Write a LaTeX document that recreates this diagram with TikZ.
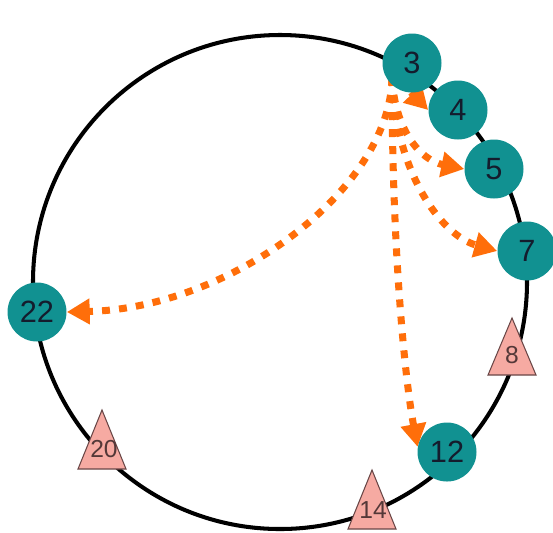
\documentclass[tikz,border=0pt]{standalone}
\usepackage{fontspec}
\setmainfont{Liberation Sans}
\usetikzlibrary{arrows.meta}
\definecolor{peerfill}{RGB}{17,145,145}
\definecolor{fingercol}{RGB}{255,110,10}
\definecolor{trifill}{RGB}{246,170,162}
\definecolor{tribord}{RGB}{105,70,70}
\definecolor{numcol}{RGB}{20,28,45}
\begin{document}
\begin{tikzpicture}[x=0.02cm,y=-0.02cm,
  peer/.style={circle,fill=peerfill,minimum size=1.18cm,inner sep=0pt,text=numcol,font=\fontsize{17.5}{17.5}\selectfont},
  tri/.style={fill=trifill,draw=tribord,line width=0.6pt,line join=miter},
  trilabel/.style={inner sep=0pt,text=tribord!80!black,font=\fontsize{14}{14}\selectfont},
  ring/.style={line width=2.3pt,draw=black},
  finger/.style={draw=fingercol,line width=4pt,dash pattern=on 4.5pt off 5.2pt,
    -{Triangle[length=13pt,width=14pt,fill=fingercol]}}]
\useasboundingbox (0,0) rectangle (553,532);
% ring
\draw[ring] (280,282) circle [radius=247];
% peer positions
\coordinate (c3) at (412,63);
\coordinate (c4) at (458,110);
\coordinate (c5) at (494,169);
\coordinate (c7) at (527,251);
\coordinate (c12) at (447,452);
\coordinate (c22) at (37,312);
% invisible placeholders giving anchors before the arrows are drawn
\path (c4) node[peer,fill=none] (n4) {}
      (c5) node[peer,fill=none] (n5) {}
      (c7) node[peer,fill=none] (n7) {}
      (c12) node[peer,fill=none] (n12) {}
      (c22) node[peer,fill=none] (n22) {};
\coordinate (s) at (392,78);
\coordinate (s4) at (399,80);
% finger arrows
\draw[finger] (s) .. controls (390,190) and (230,308) .. (n22.east);
\draw[finger] (s) .. controls (392,250) and (405,380) .. (n12.170);
\draw[finger] (s) .. controls (395,170) and (440,235) .. (n7.west);
\draw[finger] (s) .. controls (395,130) and (420,160) .. (n5.west);
\draw[finger] (s4) -- (n4.west);
% peers
\node[peer] (p3) at (c3) {3};
\node[peer] (p4) at (c4) {4};
\node[peer] (p5) at (c5) {5};
\node[peer] (p7) at (c7) {7};
\node[peer] (p12) at (c12) {12};
\node[peer] (p22) at (c22) {22};
% triangles
\path[tri] (512,318) -- (536,375) -- (488,375) -- cycle;
\node[trilabel] (t8) at (512,355) {8};
\path[tri] (102,410) -- (126,469) -- (78,469) -- cycle;
\node[trilabel] (t20) at (104,449) {20};
\path[tri] (372,470) -- (396,529) -- (348,529) -- cycle;
\node[trilabel] (t14) at (373,510) {14};
\end{tikzpicture}
\end{document}
